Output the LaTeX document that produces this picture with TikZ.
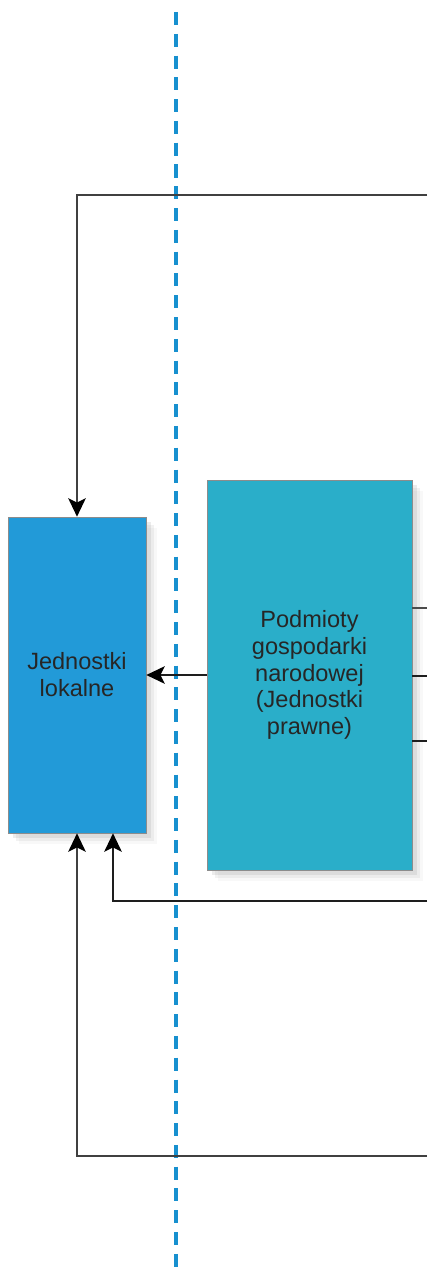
\documentclass[tikz,border=0pt]{standalone}
\usepackage{fontspec}
\setmainfont{Liberation Sans}
\usetikzlibrary{shadows,arrows.meta}
\definecolor{lokalblue}{HTML}{229AD8}
\definecolor{podmiotcyan}{HTML}{2AAEC9}
\definecolor{axisblue}{HTML}{1790CF}
\definecolor{linegray}{HTML}{1E1E1E}

\begin{document}
\begin{tikzpicture}[x=0.02cm,y=-0.02cm,
  unit/.style={draw=black!45, line width=0.4pt, align=center, inner sep=0pt,
    font=\fontsize{13.4}{15.3}\selectfont, text=black!85,
    drop shadow={opacity=0.06,shadow xshift=6pt,shadow yshift=-6pt},
    drop shadow={opacity=0.1,shadow xshift=4.5pt,shadow yshift=-4.5pt},
    drop shadow={opacity=0.15,shadow xshift=3pt,shadow yshift=-3pt}},
  link/.style={draw=linegray, line width=0.8pt},
  arrow/.style={link, -{Stealth[length=10.5pt,width=10pt,inset=2.5pt,color=black]}}]
\useasboundingbox (0,0) rectangle (427,1273);
% dashed divider
\draw[axisblue, line width=1.8pt, dash pattern=on 7.4pt off 5pt] (176,12)--(176,1268);
% units
\node[unit, fill=lokalblue, minimum width=2.76cm, minimum height=6.32cm] (lokal) at (77,675) {Jednostki\\lokalne};
\node[unit, fill=podmiotcyan, minimum width=4.1cm, minimum height=7.8cm] (podmiot) at (309.5,675) {Podmioty\\gospodarki\\narodowej\\(Jednostki\\prawne)};
% free ends at the right margin
\coordinate (topin) at (427,195);
\coordinate (outa) at (427,608);
\coordinate (outb) at (427,676);
\coordinate (outc) at (427,741);
\coordinate (midin) at (427,901);
\coordinate (lowin) at (427,1156);
\draw[arrow, draw=black!75] (topin) -| (lokal.north);
\draw[arrow] (podmiot.west) -- (lokal.east);
\draw[link, draw=black!70] (podmiot.east |- outa) -- (outa);
\draw[link] (podmiot.east |- outb) -- (outb);
\draw[link] (podmiot.east |- outc) -- (outc);
\draw[arrow, line width=1.1pt] (midin) -| ([xshift=0.72cm]lokal.south);
\draw[arrow, draw=black!75] (lowin) -| (lokal.south);
\end{tikzpicture}
\end{document}
